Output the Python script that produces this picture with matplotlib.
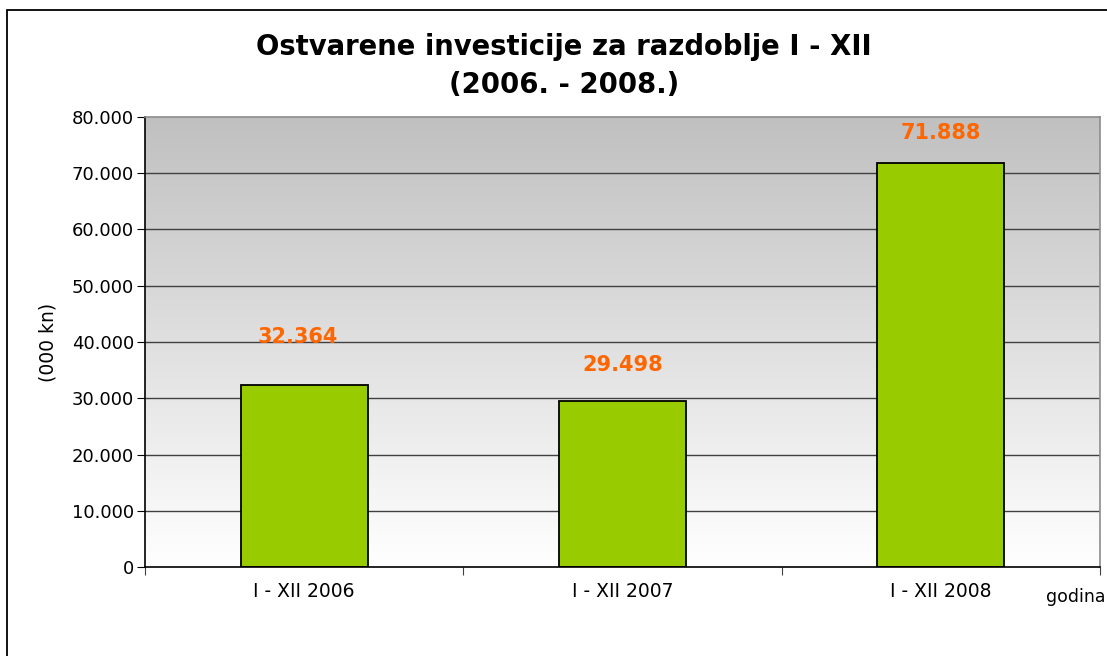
import numpy as np
import matplotlib
matplotlib.use("Agg")
import matplotlib.pyplot as plt
from matplotlib.patches import Rectangle
from matplotlib.colors import LinearSegmentedColormap

categories = ["I - XII 2006", "I - XII 2007", "I - XII 2008"]
values = [32364, 29498, 71888]
value_labels = ["32.364", "29.498", "71.888"]
label_y = [40900, 35900, 77150]
yticks = [0, 10000, 20000, 30000, 40000, 50000, 60000, 70000, 80000]
ytick_labels = ["0", "10.000", "20.000", "30.000", "40.000", "50.000", "60.000", "70.000", "80.000"]

W, H = 1107, 656
fig = plt.figure(figsize=(W / 100, H / 100), dpi=100)
plt.rcParams['font.family'] = ['DejaVu Sans']

# outer frame
fig.patches.append(Rectangle((7 / W, -0.05), 1.2, (H - 10) / H + 0.05, transform=fig.transFigure,
                             fill=False, edgecolor='black', linewidth=1.3))

ax = fig.add_axes([145 / W, (H - 567) / H, (1100 - 145) / W, (567 - 117) / H])
n = len(categories)
ax.set_xlim(0, n)
ax.set_ylim(0, 80000)

# gradient background
grad = np.linspace(0, 1, 256).reshape(-1, 1)
cmap = LinearSegmentedColormap.from_list("g", ["#ffffff", "#c0c0c0"])
ax.imshow(grad, extent=[0, n, 0, 80000], aspect='auto', cmap=cmap, origin='lower', zorder=0)

for y in yticks[1:-1]:
    ax.axhline(y, color='#404040', linewidth=1.0, zorder=1)

x = np.arange(n) + 0.5
ax.bar(x, values, width=0.4, color='#99cc00', edgecolor='black', linewidth=1.3, zorder=3)

for i, (xi, lab, ly) in enumerate(zip(x, value_labels, label_y)):
    ax.text(xi - (0.02 if i == 0 else 0), ly, lab, ha='center', va='center', color='#ff6600',
            fontsize=15, fontweight='bold', zorder=4)

ax.set_yticks(yticks)
ax.set_yticklabels(ytick_labels, fontsize=13)
ax.set_xticks(np.arange(n + 1))
ax.set_xticklabels([])
ax.set_xticks(x, minor=True)
ax.set_xticklabels(categories, minor=True, fontsize=13.5)
ax.tick_params(axis='x', which='minor', length=0, pad=11)
ax.tick_params(axis='x', which='major', length=6, direction='out', color='#404040')
ax.tick_params(axis='y', length=6, direction='out', pad=2)

ax.spines['left'].set_color('black')
ax.spines['bottom'].set_color('black')
ax.spines['top'].set_color('#8c8c8c')
ax.spines['right'].set_color('#8c8c8c')
for s in ax.spines.values():
    s.set_linewidth(1.2)
    s.set_zorder(5)

ax.set_ylabel("(000 kn)", fontsize=13.5, labelpad=10)

fig.text(564 / W, 1 - 47 / H, "Ostvarene investicije za razdoblje I - XII", ha='center', va='center',
         fontsize=19.8, fontweight='bold')
fig.text(564 / W, 1 - 85 / H, "(2006. - 2008.)", ha='center', va='center',
         fontsize=19.8, fontweight='bold')
fig.text(1076 / W, 1 - 597 / H, "godina", ha='center', va='center', fontsize=12.5)

fig.savefig("out.png", dpi=100)
